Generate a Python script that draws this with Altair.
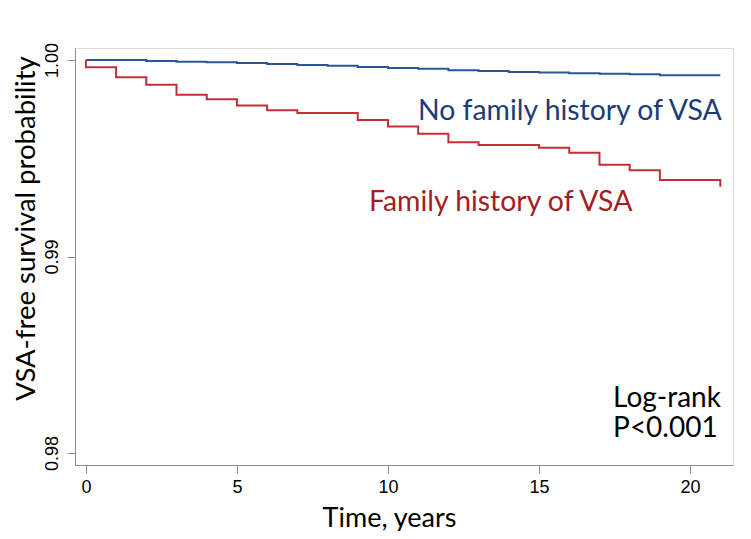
import altair as alt
import pandas as pd

# Kaplan-Meier step data
red_t = [0, 0, 1, 2, 3, 4, 5, 6, 7, 9, 10, 11, 12, 13, 15, 16, 17, 18, 19, 21, 21]
red_v = [1.0, 0.99963, 0.99912, 0.99874, 0.99823, 0.99800, 0.99769, 0.99744, 0.99730,
         0.99695, 0.99661, 0.99625, 0.99581, 0.99567, 0.99554, 0.99528, 0.99467, 0.99439,
         0.99389, 0.99389, 0.99355]
blue_t = [0, 2, 3, 4, 5, 6, 7, 8, 9, 10, 11, 12, 13, 14, 15, 16, 17, 18, 19, 21]
blue_v = [1.0, 0.99995, 0.99991, 0.99988, 0.99985, 0.99980, 0.99974, 0.99971, 0.99964,
          0.99959, 0.99955, 0.99948, 0.99944, 0.99939, 0.99936, 0.99932, 0.99930, 0.99927,
          0.99922, 0.99922]

x_ticks = [0, 5, 10, 15, 20]
y_ticks = [0.98, 0.99, 1.00]

rows = []
for i, (t, v) in enumerate(zip(blue_t, blue_v)):
    rows.append({"t": t, "v": v, "g": "No family history of VSA", "o": i})
for i, (t, v) in enumerate(zip(red_t, red_v)):
    rows.append({"t": t, "v": v, "g": "Family history of VSA", "o": i})
df = pd.DataFrame(rows)

xs = alt.Scale(domain=[-0.36, 21.42], nice=False, zero=False)
ys = alt.Scale(domain=[0.97939, 1.00061], nice=False, zero=False)

lines = alt.Chart(df).mark_line(interpolate="step-after", strokeWidth=2).encode(
    x=alt.X("t:Q", scale=xs, axis=alt.Axis(
        values=x_ticks, title="Time, years", grid=False, format="d",
        domainColor="#8c8c8c", tickColor="#8c8c8c", tickSize=8,
        labelFont="Liberation Sans", labelFontSize=18, labelColor="#000000",
        labelPadding=5,
        titleFont="Lato", titleFontSize=27, titleFontWeight="normal", titleColor="#000000",
        titleX=314, titleY=61, titleBaseline="alphabetic", titleAlign="center")),
    y=alt.Y("v:Q", scale=ys, axis=alt.Axis(
        values=y_ticks, title="VSA-free survival probability", grid=False, format=".2f",
        domainColor="#8c8c8c", tickColor="#8c8c8c", tickSize=8,
        labelFont="Liberation Sans", labelFontSize=18, labelColor="#000000",
        labelAngle=270, labelAlign="center", labelBaseline="bottom", labelPadding=6,
        titleFont="Lato", titleFontSize=27.5, titleFontWeight="normal", titleColor="#000000",
        titleAngle=270, titleX=-41, titleY=180, titleBaseline="alphabetic", titleAlign="center")),
    color=alt.Color("g:N", scale=alt.Scale(
        domain=["No family history of VSA", "Family history of VSA"],
        range=["#2b5597", "#c22f37"]), legend=None),
    order="o:Q",
)


def label(t, v, txt, color, align, size):
    d = pd.DataFrame([{"t": t, "v": v, "txt": txt}])
    return alt.Chart(d).mark_text(font="Lato", baseline="alphabetic", align=align,
                                  color=color, fontSize=size, lineHeight=30).encode(
        x=alt.X("t:Q", scale=xs), y=alt.Y("v:Q", scale=ys), text="txt")


t1 = label(21.05, 0.99695, "No family history of VSA", "#1c3b78", "right", 28.4)
t2 = label(9.37, 0.99232, "Family history of VSA", "#a51c24", "left", 28.4)
t3 = label(17.45, 0.98234, ["Log-rank", "P<0.001"], "#000000", "left", 28)

chart = alt.layer(lines, t1, t2, t3).properties(
    width=658, height=417,
    autosize=alt.AutoSizeParams(type="none"),
    padding={"left": 67, "top": 40, "right": 10, "bottom": 66},
).configure_view(stroke=None).configure(background="white")

chart.save("out.html", embed_options={"renderer": "svg", "actions": False})
